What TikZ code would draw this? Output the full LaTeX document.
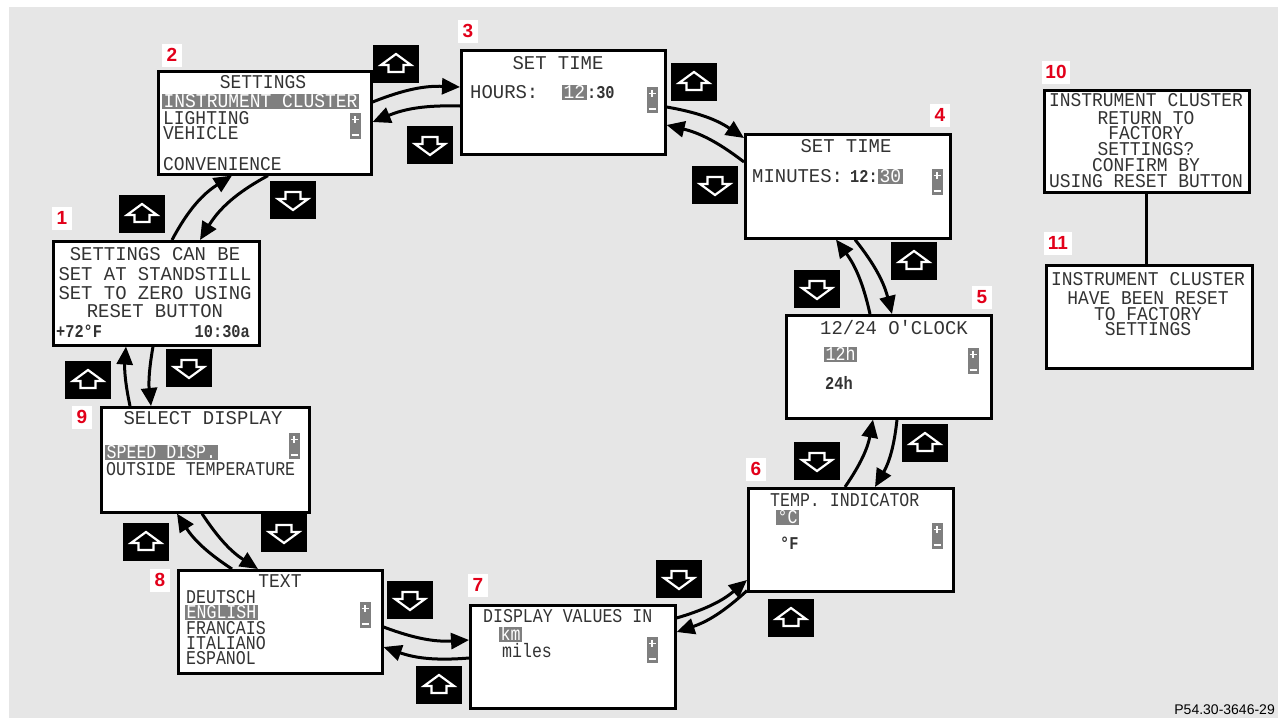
\documentclass[tikz,border=0pt]{standalone}
\usepackage{fontspec}
\usetikzlibrary{calc, positioning}
\usetikzlibrary{arrows.meta}

\newfontfamily\lcdA[FakeStretch=0.97, Ligatures=TeXOff]{Liberation Mono}
\newfontfamily\lcdB[FakeStretch=0.92, Ligatures=TeXOff]{Liberation Mono}
\newfontfamily\lcdC[FakeStretch=0.85, Ligatures=TeXOff]{Liberation Mono}
\newfontfamily\tagfam{Liberation Sans}
\newcommand{\lcdwide}{\lcdA\fontsize{19.5pt}{19.5pt}\selectfont}
\newcommand{\lcdmed}{\lcdB\fontsize{19.5pt}{19.5pt}\selectfont}
\newcommand{\lcdnarrow}{\lcdC\fontsize{19.5pt}{19.5pt}\selectfont}
\newcommand{\lcdbold}{\lcdC\bfseries\fontsize{18pt}{18pt}\selectfont}
\newcommand{\numfont}{\tagfam\bfseries\fontsize{19pt}{19pt}\selectfont}
\newcommand{\footfont}{\tagfam\fontsize{14pt}{14pt}\selectfont}

\definecolor{bggray}{HTML}{E6E6E6}
\definecolor{hlgray}{HTML}{7F7F7F}
\definecolor{numred}{HTML}{E2001A}

\newcommand{\upkey}[2]{%
  \node[keybox] (#1) at (#2) {};
  \draw[keyline] ($(#1)+(0,-10)$) -- ++(15,11) -- ++(-7.5,0) -- ++(0,7)
    -- ++(-15,0) -- ++(0,-7) -- ++(-7.5,0) -- cycle;}
\newcommand{\downkey}[2]{%
  \node[keybox] (#1) at (#2) {};
  \draw[keyline] ($(#1)+(0,10)$) -- ++(15,-11) -- ++(-7.5,0) -- ++(0,-7)
    -- ++(-15,0) -- ++(0,7) -- ++(-7.5,0) -- cycle;}
\newcommand{\lcdbar}[2]{%
  \node[barbox] (#1) at (#2) {};
  \draw[barsign] ($(#1)+(-3.5,-6.5)$) -- ++(7,0) ($(#1)+(0,-10)$) -- ++(0,7);
  \draw[barsign] ($(#1)+(-3.5,9)$) -- ++(7,0);}

\begin{document}
\begin{tikzpicture}[x=1pt, y=-1pt,
  screen/.style={draw=black, line width=2.6pt, fill=white, anchor=north west, inner sep=0pt},
  lcd/.style={inner sep=0pt, text height=13pt, text depth=0pt, text=black!80},
  hl/.style={fill=hlgray, text=white, inner xsep=1.5pt, inner ysep=1pt},
  numtag/.style={fill=white, text=numred, font=\numfont, inner sep=0pt,
    minimum height=23pt, minimum width=20pt},
  keybox/.style={fill=black, minimum width=46pt, minimum height=38pt, inner sep=0pt},
  keyline/.style={draw=white, line width=2.2pt, line join=miter},
  barbox/.style={fill=hlgray, minimum width=11pt, minimum height=26pt, inner sep=0pt},
  barsign/.style={draw=white, line width=1.6pt},
  flow/.style={line width=3pt, -{Triangle[length=18pt, width=16pt]}},
]
\fill[white] (0,0) rectangle (1278,718);
\fill[bggray] (9,7) rectangle (1278,718);
\useasboundingbox (0,0) rectangle (1278,718);

% screens
\node[screen, minimum width=206pt, minimum height=104pt] (s1) at (52,240) {};
\node[screen, minimum width=213pt, minimum height=103pt] (s2) at (157,70) {};
\node[screen, minimum width=204pt, minimum height=104pt] (s3) at (460,49) {};
\node[screen, minimum width=205pt, minimum height=104pt] (s4) at (744,133) {};
\node[screen, minimum width=205pt, minimum height=103pt] (s5) at (785,314) {};
\node[screen, minimum width=205pt, minimum height=103pt] (s6) at (747,487) {};
\node[screen, minimum width=205pt, minimum height=103pt] (s7) at (469,604) {};
\node[screen, minimum width=204pt, minimum height=103pt] (s8) at (177,569) {};
\node[screen, minimum width=208pt, minimum height=105pt] (s9) at (100,406) {};
\node[screen, minimum width=205pt, minimum height=102pt] (s10) at (1043,89) {};
\node[screen, minimum width=206pt, minimum height=103pt] (s11) at (1045,264) {};

% screen 1
\node[lcd, font=\lcdwide] (s1-t1) at (155,254) {SETTINGS CAN BE};
\node[lcd, font=\lcdwide] (s1-t2) at (155,274) {SET AT STANDSTILL};
\node[lcd, font=\lcdwide] (s1-t3) at (155,293) {SET TO ZERO USING};
\node[lcd, font=\lcdwide] (s1-t4) at (155,311) {RESET BUTTON};
\node[lcd, font=\lcdbold, anchor=west] (s1-temp) at (56,331) {+72°F};
\node[lcd, font=\lcdbold, anchor=east] (s1-clock) at (250,331) {10:30a};

% screen 2
\node[lcd, font=\lcdmed] (s2-t1) at (263,82) {SETTINGS};
\node[lcd, hl, font=\lcdmed, anchor=west] (s2-t2) at (162,101) {INSTRUMENT CLUSTER};
\node[lcd, font=\lcdmed, anchor=west] (s2-t3) at (163,118) {LIGHTING};
\node[lcd, font=\lcdmed, anchor=west] (s2-t4) at (163,133) {VEHICLE};
\node[lcd, font=\lcdmed, anchor=west] (s2-t5) at (163,164) {CONVENIENCE};
\lcdbar{s2-bar}{355,126}

% screen 3
\node[lcd, font=\lcdwide] (s3-t1) at (558,63) {SET TIME};
\node[lcd, font=\lcdwide, anchor=west] (s3-t2) at (470,92) {HOURS:};
\node[lcd, hl, font=\lcdmed, anchor=west] (s3-hh) at (562,92) {12};
\node[lcd, font=\lcdbold, right=0pt of s3-hh] (s3-mm) {:30};
\lcdbar{s3-bar}{652,100}

% screen 4
\node[lcd, font=\lcdwide] (s4-t1) at (846,146) {SET TIME};
\node[lcd, font=\lcdwide, anchor=west] (s4-t2) at (752,176) {MINUTES:};
\node[lcd, font=\lcdbold, anchor=west] (s4-hh) at (850,176) {12:};
\node[lcd, hl, font=\lcdmed, right=0pt of s4-hh] (s4-mm) {30};
\lcdbar{s4-bar}{937,182}

% screen 5
\node[lcd, font=\lcdwide, anchor=west] (s5-t1) at (820,328) {12/24 O'CLOCK};
\node[lcd, hl, font=\lcdnarrow, anchor=west] (s5-a) at (824,354) {12h};
\node[lcd, font=\lcdbold, anchor=west] (s5-b) at (825,383) {24h};
\lcdbar{s5-bar}{973,361}

% screen 6
\node[lcd, font=\lcdnarrow, anchor=west] (s6-t1) at (770,500) {TEMP. INDICATOR};
\node[lcd, hl, font=\lcdnarrow, anchor=west] (s6-a) at (776,517) {°C};
\node[lcd, font=\lcdbold, anchor=west] (s6-b) at (780,543) {°F};
\lcdbar{s6-bar}{937,536}

% screen 7
\node[lcd, font=\lcdnarrow, anchor=west] (s7-t1) at (483,616) {DISPLAY VALUES IN};
\node[lcd, hl, font=\lcdnarrow, anchor=west] (s7-a) at (499,634) {km};
\node[lcd, font=\lcdnarrow, anchor=west] (s7-b) at (502,651) {miles};
\lcdbar{s7-bar}{652,650}

% screen 8
\node[lcd, font=\lcdmed] (s8-t1) at (280,581) {TEXT};
\node[lcd, font=\lcdnarrow, anchor=west] (s8-t2) at (186,597) {DEUTSCH};
\node[lcd, hl, font=\lcdnarrow, anchor=west] (s8-t3) at (185,612) {ENGLISH};
\node[lcd, font=\lcdnarrow, anchor=west] (s8-t4) at (186,628) {FRANCAIS};
\node[lcd, font=\lcdnarrow, anchor=west] (s8-t5) at (186,643) {ITALIANO};
\node[lcd, font=\lcdnarrow, anchor=west] (s8-t6) at (186,658) {ESPANOL};
\lcdbar{s8-bar}{365,615}

% screen 9
\node[lcd, font=\lcdwide] (s9-t1) at (203,418) {SELECT DISPLAY};
\node[lcd, hl, font=\lcdnarrow, anchor=west] (s9-a) at (105,452) {SPEED DISP.};
\node[lcd, font=\lcdnarrow, anchor=west] (s9-b) at (106,469) {OUTSIDE TEMPERATURE};
\lcdbar{s9-bar}{294,446}

% screens 10 and 11
\node[lcd, font=\lcdmed] (s10-t1) at (1146,100) {INSTRUMENT CLUSTER};
\node[lcd, font=\lcdmed] (s10-t2) at (1146,118) {RETURN TO};
\node[lcd, font=\lcdmed] (s10-t3) at (1146,133) {FACTORY};
\node[lcd, font=\lcdmed] (s10-t4) at (1146,149) {SETTINGS?};
\node[lcd, font=\lcdmed] (s10-t5) at (1146,165) {CONFIRM BY};
\node[lcd, font=\lcdmed] (s10-t6) at (1146,181) {USING RESET BUTTON};
\node[lcd, font=\lcdmed] (s11-t1) at (1148,279) {INSTRUMENT CLUSTER};
\node[lcd, font=\lcdmed] (s11-t2) at (1148,298) {HAVE BEEN RESET};
\node[lcd, font=\lcdmed] (s11-t3) at (1148,314) {TO FACTORY};
\node[lcd, font=\lcdmed] (s11-t4) at (1148,329) {SETTINGS};
\draw[line width=3pt] (s10.south) -- (s10.south |- s11.north);

% numbers
\node[numtag] (n1) at (62,218) {1};
\node[numtag] (n2) at (172,55) {2};
\node[numtag] (n3) at (468,31) {3};
\node[numtag] (n4) at (940,115) {4};
\node[numtag] (n5) at (982,297) {5};
\node[numtag] (n6) at (756,469) {6};
\node[numtag] (n7) at (478,585) {7};
\node[numtag] (n8) at (160,580) {8};
\node[numtag] (n9) at (82,417) {9};
\node[numtag, minimum width=28pt] (n10) at (1056,72) {10};
\node[numtag, minimum width=28pt] (n11) at (1058,243) {11};

% keys
\upkey{k12u}{142,214}
\downkey{k12d}{293,200}
\upkey{k23u}{396,64}
\downkey{k23d}{430,145}
\upkey{k34u}{694,82}
\downkey{k34d}{715,185}
\downkey{k45d}{817,289}
\upkey{k45u}{914,261}
\downkey{k56d}{817,461}
\upkey{k56u}{925,443}
\downkey{k67d}{679,579}
\upkey{k67u}{791,618}
\downkey{k78d}{410,600}
\upkey{k78u}{439,685}
\upkey{k89u}{146,542}
\downkey{k89d}{284,533}
\upkey{k91u}{88,380}
\downkey{k91d}{189,368}

% flow between screens
\draw[flow] ([xshift=120pt]s1.north west) to[bend left=15] ([xshift=75pt]s2.south west);
\draw[flow] ([xshift=111pt]s2.south west) to[bend right=15] ([xshift=148pt]s1.north west);
\draw[flow] ([yshift=-32pt]s2.north east) to[bend left=12] ([yshift=-38pt]s3.north west);
\draw[flow] ([yshift=-57pt]s3.north west) to[bend right=12] ([yshift=-52pt]s2.north east);
\draw[flow] ([yshift=-58pt]s3.north east) to[bend left=12] ([yshift=-5pt]s4.north west);
\draw[flow] ([yshift=-29pt]s4.north west) to[bend right=12] ([yshift=-76pt]s3.north east);
\draw[flow] ([xshift=111pt]s4.south west) to[bend left=12] ([xshift=107pt]s5.north west);
\draw[flow] ([xshift=85pt]s5.north west) to[bend right=12] ([xshift=92pt]s4.south west);
\draw[flow] ([xshift=112pt]s5.south west) to[bend left=12] ([xshift=128pt]s6.north west);
\draw[flow] ([xshift=98pt]s6.north west) to[bend right=12] ([xshift=88pt]s5.south west);
\draw[flow] ([yshift=2pt]s6.south west) to[bend left=12] ([yshift=-28pt]s7.north east);
\draw[flow] ([yshift=-14pt]s7.north east) to[bend right=12] ([yshift=-93pt]s6.north west);
\draw[flow] ([yshift=-54pt]s7.north west) to[bend left=12] ([yshift=-78pt]s8.north east);
\draw[flow] ([yshift=-58pt]s8.north east) to[bend right=12] ([yshift=-36pt]s7.north west);
\draw[flow] ([xshift=55pt]s8.north west) to[bend left=12] ([xshift=77pt]s9.south west);
\draw[flow] ([xshift=102pt]s9.south west) to[bend right=12] ([xshift=81pt]s8.north west);
\draw[flow] ([xshift=30pt]s9.north west) to[bend left=8] ([xshift=74pt]s1.south west);
\draw[flow] ([xshift=101pt]s1.south west) to[bend right=8] ([xshift=51pt]s9.north west);

\node[font=\footfont, anchor=east, inner sep=0pt] (code) at (1275,710) {P54.30-3646-29};
\end{tikzpicture}
\end{document}
